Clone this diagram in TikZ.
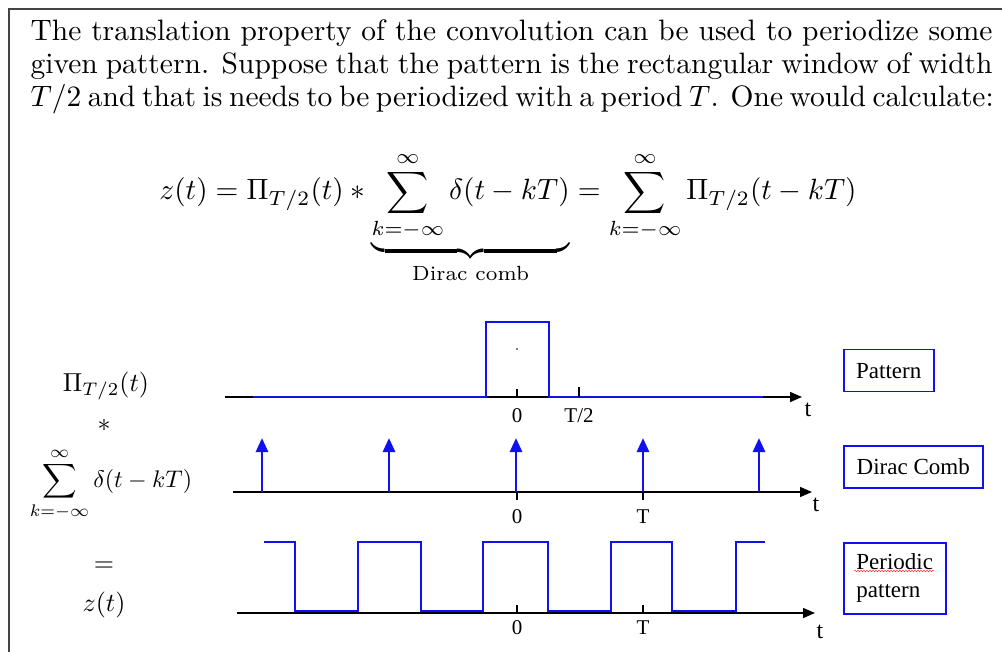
\RequirePackage{fix-cm}
\documentclass[tikz,border=0pt]{standalone}
\usepackage{amsmath}
\usepackage{fontspec}
\newfontfamily\tnr{Liberation Serif}
\usetikzlibrary{arrows.meta,decorations.pathmorphing}
\definecolor{framegray}{HTML}{444444}
\definecolor{sigblue}{HTML}{1010F0}
\tikzset{
  txtline/.style={anchor=base west, inner sep=0pt, scale=2.95, transform shape, font=\fontsize{10}{11}\selectfont},
  eqline/.style={anchor=base, inner sep=0pt, scale=2.93, transform shape, font=\fontsize{10}{11}\selectfont},
  axisline/.style={black, line width=1.4pt, -{Triangle[length=12pt,width=10pt]}},
  sigline/.style={sigblue, line width=1.6pt},
  diracline/.style={sigblue, line width=2.8pt, -{Triangle[length=14pt,width=12pt]}},
  tickline/.style={black, line width=1.2pt},
  ticklab/.style={inner sep=0pt, font=\tnr\fontsize{21}{24}\selectfont},
  tlab/.style={inner sep=0pt, font=\tnr\fontsize{24}{26}\selectfont},
  lmath/.style={inner sep=0pt, scale=2.6, transform shape, font=\fontsize{10}{12}\selectfont},
  lsum/.style={inner sep=0pt, scale=2.4, transform shape, font=\fontsize{10}{12}\selectfont},
  lbox/.style={draw=sigblue, line width=1.5pt, inner sep=0pt, anchor=north west, font=\tnr\fontsize{23}{28}\selectfont}
}
\begin{document}
\begin{tikzpicture}[x=1pt,y=-1pt]
\useasboundingbox (0,0) rectangle (1002,652);
% frame
\draw[framegray, line width=1.5pt] (9,652) -- (9,9) -- (1002,9);
% paragraph
\node[txtline] (l1) at (30,41) {\makebox[326.1pt][s]{The translation property of the convolution can be used to periodize some}};
\node[txtline] (l2) at (30,74) {\makebox[326.1pt][s]{given pattern. Suppose that the pattern is the rectangular window of width}};
\node[txtline] (l3) at (30,107) {\makebox[326.1pt][s]{$T/2$ and that is needs to be periodized with a period $T$. One would calculate:}};
% equation
\node[eqline] (eq) at (508,200) {$\displaystyle z(t)=\Pi_{T/2}(t)*\underbrace{\sum_{k=-\infty}^{\infty}\delta(t-kT)}_{\text{Dirac comb}}=\sum_{k=-\infty}^{\infty}\Pi_{T/2}(t-kT)$};
% ---------- plot 1: pattern
\coordinate (a1s) at (225,397); \coordinate (a1e) at (802,397);
\draw[axisline] (a1s) -- (a1e);
\draw[sigline] (253,397) -- (486,397) -- (486,322) -- (549,322) -- (549,397) -- (763,397);
\draw[tickline] (517,389) -- (517,397);
\draw[tickline] (579,387) -- (579,397);
\fill (517,349) circle (0.8pt);
\node[ticklab] (p1z) at (517,416) {0};
\node[ticklab] (p1h) at (579,416) {T/2};
\node[tlab] (p1t) at (808,410) {t};
% ---------- plot 2: dirac comb
\coordinate (a2s) at (233,492); \coordinate (a2e) at (812,492);
\draw[axisline] (a2s) -- (a2e);
\foreach \xx in {262,389,516,643,759}{
  \draw[diracline] (\xx,492) -- (\xx,438);
}
\draw[tickline] (517,492) -- (517,500);
\draw[tickline] (643,492) -- (643,500);
\node[ticklab] (p2z) at (517,517) {0};
\node[ticklab] (p2T) at (643,517) {T};
\node[tlab] (p2t) at (816,505) {t};
% ---------- plot 3: periodic pattern
\coordinate (a3s) at (237,613); \coordinate (a3e) at (815,613);
\draw[axisline] (a3s) -- (a3e);
\draw[sigline] (264,542) -- (295,542) -- (295,611) -- (358,611) -- (358,542) -- (421,542) -- (421,611) -- (483,611) -- (483,542) -- (548,542) -- (548,611) -- (611,611) -- (611,542) -- (672,542) -- (672,611) -- (736,611) -- (736,542) -- (765,542);
\draw[tickline] (517,605) -- (517,612);
\draw[tickline] (643,605) -- (643,612);
\node[ticklab] (p3z) at (517,628) {0};
\node[ticklab] (p3T) at (643,628) {T};
\node[tlab] (p3t) at (820,632) {t};
% ---------- left formulas
\node[lmath] (f1) at (106,386) {$\Pi_{T/2}(t)$};
\node[lmath] (f2) at (104,425) {$*$};
\node[lsum] (f3) at (111,484) {$\displaystyle\sum_{k=-\infty}^{\infty}\delta(t-kT)$};
\node[lmath] (f4) at (104,567) {$=$};
\node[lmath] (f5) at (104,605) {$z(t)$};
% ---------- right boxes
\node[lbox, minimum width=90pt, minimum height=42pt] (bp) at (843,349) {Pattern};
\node[lbox, minimum width=139pt, minimum height=42pt] (bd) at (843,445) {Dirac Comb};
\node[lbox, minimum width=102pt, minimum height=71pt, align=left] (bq) at (843,542) {Periodic\\pattern};
\draw[red!80, line width=0.5pt, decorate, decoration={snake, amplitude=0.8pt, segment length=3pt}] (854,571) -- (934,571);
\end{tikzpicture}
\end{document}
